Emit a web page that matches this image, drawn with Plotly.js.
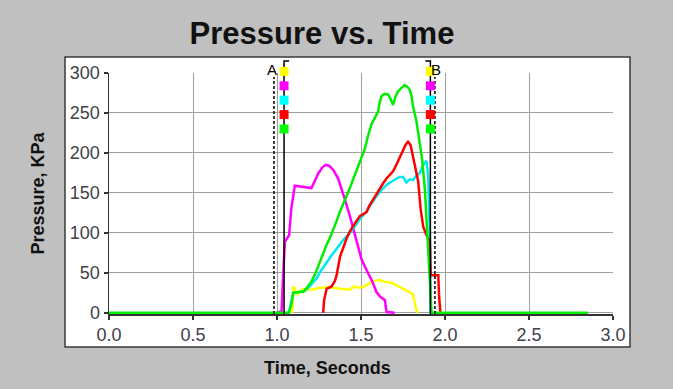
<!DOCTYPE html>
<html>
<head>
<meta charset="utf-8">
<script src="https://cdn.plot.ly/plotly-3.0.1.min.js"></script>
<style>html,body{margin:0;padding:0;background:#c0c0c0;}#chart{width:673px;height:389px;}</style>
</head>
<body>
<div id="chart"></div>
<script>
// ---- data (time in seconds, pressure in KPa) ----
const yellowT = [1.09,1.097,1.11,1.125,1.14,1.16,1.2,1.25,1.3,1.35,1.4,1.434,1.46,1.49,1.52,1.553,1.58,1.61,1.64,1.69,1.72,1.75,1.77,1.79,1.81,1.83,1.84];
const yellowP = [0,33,28,23,28,30,29,31,32,31,30,29,33,31,33,37,40,41,39,37,33,30,28,25,23,3,0];

const magentaT = [1.0,1.027,1.035,1.047,1.072,1.085,1.106,1.14,1.17,1.205,1.225,1.245,1.27,1.29,1.31,1.334,1.364,1.385,1.404,1.434,1.45,1.473,1.503,1.525,1.553,1.57,1.592,1.615,1.642,1.652,1.7];
const magentaP = [0,2,40,89,97,130,159,158,157,156,165,174,182,185,184,179,168,155,142,121,108,92,67,57,46,38,26,20,16,1,0];

const cyanT = [1.07,1.097,1.13,1.16,1.185,1.21,1.235,1.26,1.295,1.325,1.355,1.39,1.434,1.46,1.493,1.533,1.56,1.592,1.62,1.652,1.68,1.71,1.73,1.75,1.77,1.79,1.81,1.83,1.85,1.87,1.89,1.9,1.91,1.915];
const cyanP = [0,25,26,27,31,37,43,52,63,72,80,90,100,108,117,127,136,146,153,160,164,168,170,170,163,167,166,172,175,185,190,170,100,0];

const redT = [1.275,1.28,1.295,1.325,1.345,1.355,1.375,1.395,1.414,1.434,1.453,1.473,1.493,1.513,1.533,1.55,1.572,1.6,1.632,1.652,1.672,1.691,1.71,1.73,1.75,1.765,1.78,1.795,1.81,1.82,1.84,1.855,1.87,1.89,1.91,1.915,1.935,1.96,1.965,1.973];
const redP = [0,15,30,33,40,47,70,83,93,102,109,115,121,124,126,134,142,152,162,168,172,177,185,193,203,210,214,210,196,185,165,130,108,97,89,47,47,47,20,0];

const greenT = [0,1.07,1.085,1.097,1.13,1.155,1.18,1.205,1.23,1.255,1.275,1.295,1.315,1.334,1.355,1.374,1.395,1.414,1.434,1.453,1.473,1.493,1.51,1.523,1.54,1.562,1.58,1.602,1.61,1.622,1.64,1.662,1.675,1.691,1.705,1.72,1.74,1.76,1.775,1.79,1.8,1.81,1.83,1.85,1.865,1.88,1.89,1.9,1.91,1.92,2.85];
const greenP = [0,0,10,25,26,26,32,39,50,64,75,85,94,103,115,126,136,145,156,167,178,188,198,205,220,236,243,252,262,271,274,273,268,260,270,277,281,285,283,279,272,258,240,211,190,155,120,89,40,0,0];

// cursors
const cursorNames = ['A', 'B'];
const cursorDashT = [0.982, 1.94];
const cursorSolidT = [1.042, 1.913];
const markerLevels = [302, 284, 266, 248, 230];
const markerColors = ['#ffff00', '#ff00ff', '#00ffff', '#ff0000', '#00ff00'];

const xTicks = [0, 0.5, 1.0, 1.5, 2.0, 2.5, 3.0];
const yTicks = [0, 50, 100, 150, 200, 250, 300];

const FONT = 'Liberation Sans, Arial, sans-serif';
const LW = 2.5;
const X_RANGE = [0, 3];
const Y_RANGE = [-1.5, 300];

function line(t, p, c) {
  return {x: t, y: p, type: 'scatter', mode: 'lines', line: {color: c, width: LW}, hoverinfo: 'skip'};
}

const traces = [
  line(yellowT, yellowP, '#ffff00'),
  line(magentaT, magentaP, '#ff00ff'),
  line(cyanT, cyanP, '#00e8f0'),
  line(redT, redP, '#ff0000'),
  line(greenT, greenP, '#00ee00')
];

// plot frame geometry (plot area 109..613 x 73..314 px)
const PL = 109, PR = 613, PT = 73, PB = 314;
const W = PR - PL, H = PB - PT;
function px2x(px) { return (px - PL) / W; }
function py2y(py) { return (PB - py) / H; }
function val2paperY(v) { return (v - Y_RANGE[0]) / (Y_RANGE[1] - Y_RANGE[0]); }
const xPerPx = (X_RANGE[1] - X_RANGE[0]) / W;

const shapes = [
  {type: 'rect', xref: 'paper', yref: 'paper', x0: px2x(65), x1: px2x(630), y0: py2y(347), y1: py2y(57),
   fillcolor: '#ffffff', line: {color: '#3a3a3a', width: 1.5}, layer: 'below'}
];
cursorDashT.forEach(function (t) {
  shapes.push({type: 'line', xref: 'x', yref: 'paper', x0: t, x1: t, y0: 0, y1: py2y(77),
    line: {color: '#000', width: 1.5, dash: '3px,2px'}});
});
cursorSolidT.forEach(function (t, i) {
  const hx = t + (i === 0 ? 5 : -5) * xPerPx;
  const top = py2y(61);
  shapes.push({type: 'path', xref: 'x', yref: 'paper',
    path: 'M' + hx + ',' + top + ' L' + t + ',' + top + ' L' + t + ',0',
    line: {color: '#000', width: 1.5}});
  // coloured channel squares on the cursor
  markerLevels.forEach(function (v, k) {
    const yc = val2paperY(v);
    shapes.push({type: 'rect', xref: 'x', yref: 'paper',
      x0: t - 4.5 * xPerPx, x1: t + 4.5 * xPerPx, y0: yc - 4.5 / H, y1: yc + 4.5 / H,
      fillcolor: markerColors[k], line: {width: 0}});
  });
});

const annotations = cursorNames.map(function (n, i) {
  return {text: n, x: cursorDashT[i] + (i === 0 ? -0.012 : 0.008), xref: 'x', y: py2y(69), yref: 'paper',
    showarrow: false, xanchor: 'center', yanchor: 'middle',
    font: {family: FONT, size: 15, color: '#000'}};
});
annotations.push({text: '<b>Time, Seconds</b>', xref: 'paper', yref: 'paper', x: px2x(327), y: py2y(368),
  xanchor: 'center', yanchor: 'middle', showarrow: false,
  font: {family: FONT, size: 18, color: '#111'}});

const layout = {
  width: 673, height: 389,
  paper_bgcolor: '#c0c0c0', plot_bgcolor: '#ffffff',
  margin: {l: PL, r: 673 - PR, t: PT, b: 389 - PB, pad: 0},
  showlegend: false,
  title: {text: 'Pressure vs. Time', xref: 'container', yref: 'container', x: 322 / 673, y: 1 - 33 / 389,
    xanchor: 'center', yanchor: 'middle', font: {family: FONT, size: 31, weight: 'bold', color: '#111'}},
  xaxis: {
    range: X_RANGE, tickvals: xTicks, ticktext: xTicks.map(function (v) { return v.toFixed(1); }),
    showgrid: true, gridcolor: '#a0a0a0', gridwidth: 1, zeroline: false,
    showline: true, linecolor: '#333', linewidth: 1.5,
    ticks: 'outside', ticklen: 4, tickcolor: '#333', tickwidth: 1.5,
    tickfont: {family: FONT, size: 18, color: '#404048'},
    automargin: false, fixedrange: true
  },
  yaxis: {
    range: Y_RANGE, tickvals: yTicks, ticktext: yTicks.map(String),
    showgrid: true, gridcolor: '#a0a0a0', gridwidth: 1, zeroline: false,
    showline: true, linecolor: '#333', linewidth: 1.5,
    ticks: 'outside', ticklen: 4, tickcolor: '#333', tickwidth: 1.5,
    tickfont: {family: FONT, size: 18, color: '#404048'},
    title: {text: 'Pressure, KPa', standoff: 20, font: {family: FONT, size: 18, weight: 'bold', color: '#111'}},
    automargin: false, fixedrange: true
  },
  shapes: shapes,
  annotations: annotations
};

Plotly.newPlot('chart', traces, layout, {staticPlot: true, displayModeBar: false});
</script>
</body>
</html>
